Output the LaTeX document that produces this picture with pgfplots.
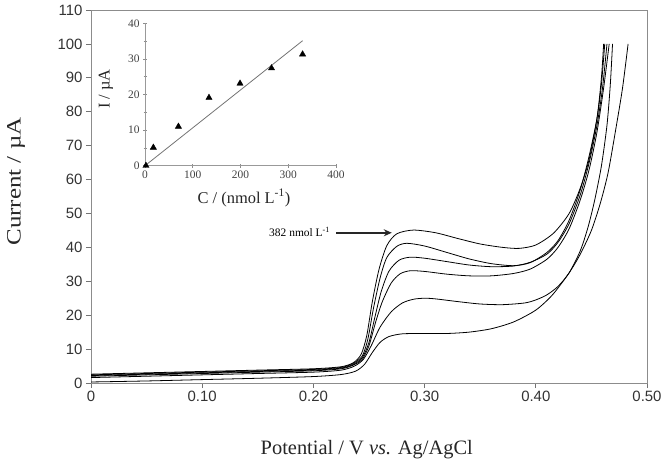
\documentclass[border=0pt]{standalone}
\usepackage{fontspec}
\setmainfont{Liberation Serif}
\newfontfamily\arial{Liberation Sans}
\usepackage{pgfplots}
\pgfplotsset{compat=1.18}
\usetikzlibrary{arrows.meta}

\begin{document}
\begin{tikzpicture}
% ---------------- main voltammograms ----------------
\begin{axis}[
  at={(91bp,84bp)}, anchor=south west,
  width=556bp, height=373bp, scale only axis,
  xmin=0, xmax=0.5, ymin=0, ymax=110,
  xtick={0,0.1,0.2,0.3,0.4,0.5},
  xticklabels={0,0.10,0.20,0.30,0.40,0.50},
  ytick={0,10,...,110},
  tick pos=left, tick align=outside,
  major tick length=5bp,
  axis line style={black!45, line width=0.9pt},
  tick style={black!55, line width=0.8pt},
  ticklabel style={font=\arial\fontsize{15}{15}\selectfont, text=black!80},
  /pgf/number format/assume math mode=true,
  xlabel={Potential / V \textit{vs.} Ag/AgCl},
  ylabel={\scalebox{1.22}[1]{Current / µA}},
  label style={font=\fontsize{20.5}{22}\selectfont, text=black!85},
  xlabel style={at={(rel axis cs:0.496,-0.178)}, anchor=center},
  ylabel style={at={(rel axis cs:-0.135,0.54)}, anchor=center},
  cv/.style={black, no marks, line width=0.8pt, smooth, tension=0.45},
]
% blank / lowest
\addplot[cv] coordinates {(0,0.3) (0.05,0.6) (0.10,1.0) (0.15,1.4) (0.20,1.9) (0.225,2.5) (0.238,3.5) (0.246,5.5) (0.253,9) (0.26,12) (0.268,13.7) (0.28,14.5) (0.30,14.6) (0.32,14.6) (0.34,15.0) (0.36,16.0) (0.38,18.0) (0.40,21.5) (0.415,26) (0.43,32.5) (0.44,38) (0.45,45) (0.458,53) (0.465,62) (0.472,75) (0.478,87) (0.483,100)};
\addplot[cv] coordinates {(0,1.6) (0.05,2.0) (0.10,2.4) (0.15,2.8) (0.20,3.2) (0.225,3.8) (0.237,5) (0.245,7) (0.252,11) (0.26,16.5) (0.27,21) (0.28,23.6) (0.29,24.7) (0.30,25.0) (0.31,24.8) (0.33,24.0) (0.35,23.3) (0.37,23.1) (0.39,23.6) (0.40,24.5) (0.41,26) (0.42,28.5) (0.43,32.5) (0.44,39) (0.447,46) (0.453,54) (0.459,64) (0.464,76) (0.467,88) (0.469,100)};
\addplot[cv] coordinates {(0,2.0) (0.05,2.4) (0.10,2.8) (0.15,3.2) (0.20,3.6) (0.225,4.2) (0.236,5.3) (0.244,7) (0.25,11) (0.256,18) (0.262,24) (0.27,29.5) (0.278,32.2) (0.287,33.1) (0.30,32.9) (0.32,32.1) (0.34,31.6) (0.36,31.6) (0.38,32.3) (0.395,33.6) (0.41,36.5) (0.42,40) (0.43,45.5) (0.44,54) (0.448,63) (0.455,74) (0.461,87) (0.466,100)};
\addplot[cv] coordinates {(0,2.2) (0.05,2.6) (0.10,3.0) (0.15,3.4) (0.20,3.8) (0.225,4.4) (0.236,5.5) (0.244,7.5) (0.25,12) (0.255,19) (0.261,27) (0.268,33) (0.277,36.2) (0.287,37.1) (0.30,36.8) (0.32,35.8) (0.34,34.8) (0.36,34.3) (0.38,34.5) (0.395,35.6) (0.41,38) (0.42,41.5) (0.43,47) (0.44,55.5) (0.448,65) (0.455,76) (0.46,87) (0.464,100)};
\addplot[cv] coordinates {(0,2.4) (0.05,2.8) (0.10,3.2) (0.15,3.6) (0.20,4.0) (0.225,4.6) (0.236,5.8) (0.244,8) (0.249,13) (0.254,22) (0.26,31) (0.266,37) (0.275,40.3) (0.284,41.2) (0.30,40.4) (0.32,38.5) (0.34,36.6) (0.36,35.2) (0.38,34.6) (0.395,35.5) (0.41,38.5) (0.42,42) (0.43,48) (0.44,57) (0.448,67) (0.455,78) (0.459,88) (0.462,100)};
% highest concentration
\addplot[cv] coordinates {(0,2.6) (0.05,3.0) (0.10,3.4) (0.15,3.8) (0.20,4.2) (0.225,4.8) (0.236,6) (0.243,8.5) (0.248,14) (0.253,24) (0.259,33.5) (0.266,40.5) (0.275,44) (0.29,45.1) (0.31,44.3) (0.33,42.6) (0.35,41) (0.37,40) (0.385,39.7) (0.40,40.7) (0.416,44.2) (0.43,50) (0.44,57.5) (0.448,66) (0.455,78) (0.459,90) (0.461,100)};
% annotation of the top curve
\draw[-{Stealth[length=8bp,width=7bp]}, line width=2.4pt, black!85]
  (axis cs:0.2205,44.3) -- (axis cs:0.2705,44.3);
\node[anchor=east, font=\fontsize{11.5}{12}\selectfont, inner sep=0pt]
  at (axis cs:0.215,44.6) {382 nmol L\textsuperscript{-1}};
\end{axis}

% ---------------- calibration inset ----------------
\begin{axis}[
  at={(145bp,301.3bp)}, anchor=south west,
  width=191bp, height=142.4bp, scale only axis,
  xmin=0, xmax=400, ymin=0, ymax=40,
  xtick={0,100,...,400}, ytick={0,10,...,40},
  minor y tick num=1,
  axis x line=bottom, axis y line=left,
  axis line style={-, black!40, line width=0.8pt},
  tick style={black!45, line width=0.6pt},
  tick align=center, major tick length=4bp, minor tick length=3bp,
  ticklabel style={font=\fontsize{11.5}{11.5}\selectfont, text=black!75},
  /pgf/number format/assume math mode=true,
  xlabel={C / (nmol L\textsuperscript{-1})},
  ylabel={I / µA},
  label style={font=\fontsize{16.5}{18}\selectfont, text=black!85},
  xlabel style={at={(rel axis cs:0.518,-0.227)}, anchor=center},
  ylabel style={at={(rel axis cs:-0.204,0.539)}, anchor=center},
  clip=false,
]
\addplot[black!55, line width=0.8pt] coordinates {(0,0) (330,35.1)};
\addplot[only marks, mark=triangle*, mark size=3.6bp, black]
  coordinates {(2,0) (17.5,5.1) (70,11) (134,19.1) (199,23.1) (265,27.4) (330,31.3)};
\end{axis}

\pgfresetboundingbox
\path (0,0) rectangle (663bp,467bp);
\end{tikzpicture}
\end{document}
